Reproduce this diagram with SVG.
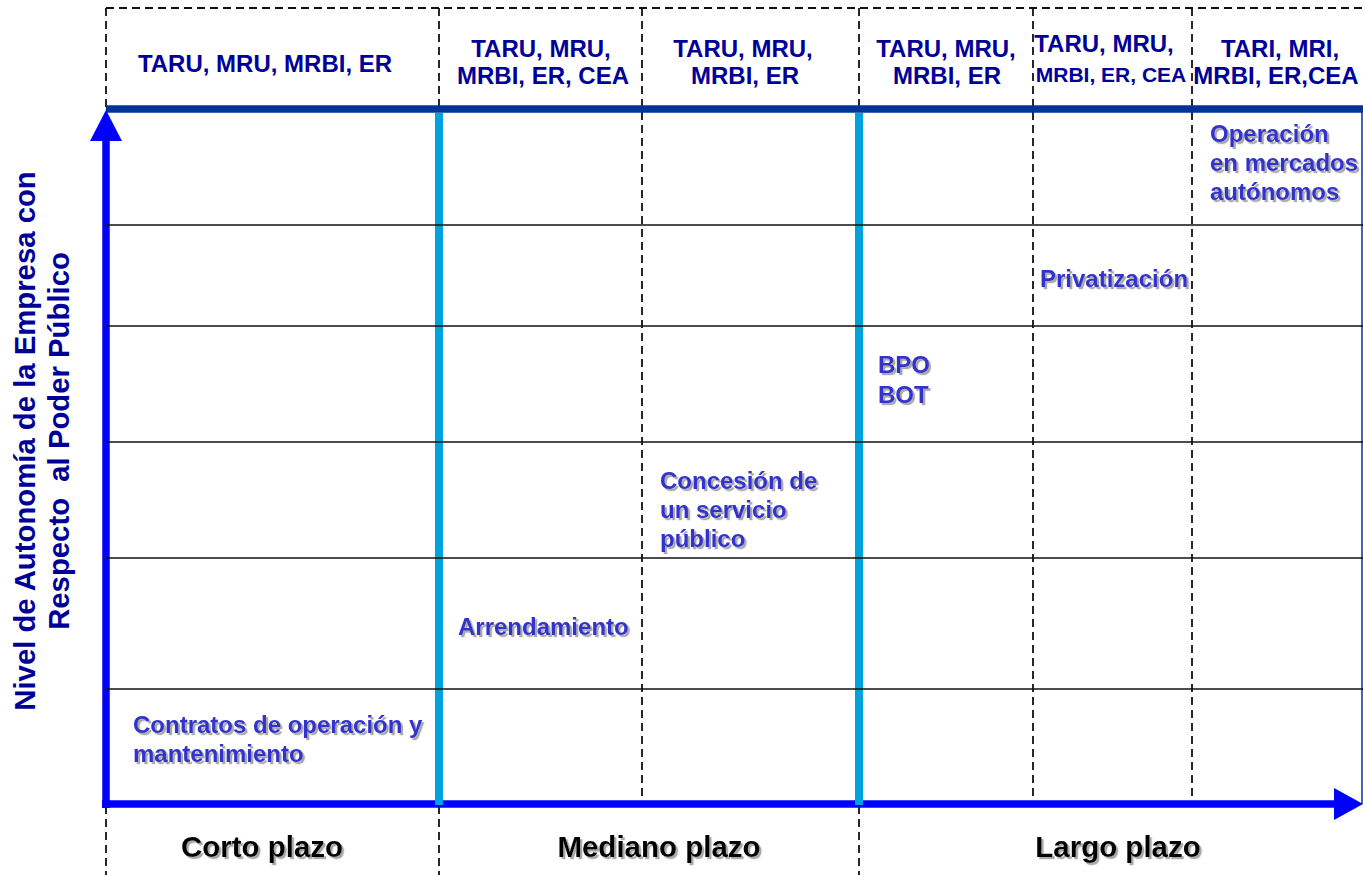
<svg xmlns="http://www.w3.org/2000/svg" width="1363" height="875" viewBox="0 0 1363 875">
<style>
.dash{stroke:#111;stroke-width:1.8;stroke-dasharray:8,5;fill:none}
.hl{stroke:#111;stroke-width:1.6;fill:none}
.cyan{stroke:#00A2DC;stroke-width:8;fill:none}
.hdr{font-family:"Liberation Sans",Arial,sans-serif;font-weight:bold;font-size:24px;fill:#000099;text-anchor:middle}
.lbl{font-family:"Liberation Sans",Arial,sans-serif;font-weight:bold;font-size:24px;fill:#3333CC;filter:url(#sh)}
.bot{font-family:"Liberation Sans",Arial,sans-serif;font-weight:bold;font-size:29.5px;fill:#000;text-anchor:middle;filter:url(#sh)}
.ax{font-family:"Liberation Sans",Arial,sans-serif;font-weight:bold;font-size:29.3px;fill:#000099;text-anchor:middle}
</style>
<defs>
<filter id="sh" x="-5%" y="-20%" width="115%" height="150%">
<feDropShadow dx="2.2" dy="2.2" stdDeviation="0.7" flood-color="#8c8c8c" flood-opacity="0.75"/>
</filter>
</defs>
<rect width="1363" height="875" fill="#fff"/>
<g id="grid">
<line class="dash" x1="106" y1="8" x2="1363" y2="8"/>
<line class="dash" x1="106" y1="8" x2="106" y2="108"/>
<line class="dash" x1="439" y1="8" x2="439" y2="108"/>
<line class="dash" x1="642" y1="8" x2="642" y2="804"/>
<line class="dash" x1="859" y1="8" x2="859" y2="108"/>
<line class="dash" x1="1033" y1="8" x2="1033" y2="804"/>
<line class="dash" x1="1192" y1="8" x2="1192" y2="804"/>
<line class="dash" x1="106" y1="806" x2="106" y2="875"/>
<line class="dash" x1="439" y1="806" x2="439" y2="875"/>
<line class="dash" x1="859" y1="806" x2="859" y2="875"/>
<line x1="1362" y1="108" x2="1362" y2="804" stroke="#003399" stroke-width="1.5"/>
</g>
<g id="connectors">
<line x1="106" y1="109" x2="1363" y2="109" stroke="#003399" stroke-width="7.5"/>
<line x1="106" y1="808" x2="106" y2="138" stroke="#0000FF" stroke-width="7.5"/>
<polygon points="106,110 122,141 90,141" fill="#0000FF"/>
<line x1="102" y1="804" x2="1338" y2="804" stroke="#0000FF" stroke-width="7.5"/>
<polygon points="1363,804 1334,788 1334,820" fill="#0000FF"/>
<line class="cyan" x1="439" y1="113" x2="439" y2="805"/>
<line class="cyan" x1="859" y1="113" x2="859" y2="805"/>
<line class="hl" x1="106" y1="225" x2="1363" y2="225"/>
<line class="hl" x1="106" y1="326" x2="1363" y2="326"/>
<line class="hl" x1="106" y1="442" x2="1363" y2="442"/>
<line class="hl" x1="106" y1="558" x2="1363" y2="558"/>
<line class="hl" x1="106" y1="689" x2="1363" y2="689"/>
</g>
<g id="headers">
<g id="h1"><text class="hdr" x="265" y="72">TARU, MRU, MRBI, ER</text></g>
<g id="h2"><text class="hdr" x="541" y="57">TARU, MRU,</text><text class="hdr" x="543" y="84">MRBI, ER, CEA</text></g>
<g id="h3"><text class="hdr" x="743" y="57">TARU, MRU,</text><text class="hdr" x="745" y="84">MRBI, ER</text></g>
<g id="h4"><text class="hdr" x="946" y="57">TARU, MRU,</text><text class="hdr" x="947" y="84">MRBI, ER</text></g>
<g id="h5"><text class="hdr" x="1104" y="52">TARU, MRU,</text><text class="hdr" x="1111" y="82" style="font-size:21px">MRBI, ER, CEA</text></g>
<g id="h6"><text class="hdr" x="1280" y="57">TARI, MRI,</text><text class="hdr" x="1276" y="84">MRBI, ER,CEA</text></g>
</g>
<g id="labels">
<g id="n-operacion"><text class="lbl" x="1210" y="142">Operación</text><text class="lbl" x="1210" y="171">en mercados</text><text class="lbl" x="1210" y="200">autónomos</text></g>
<g id="n-privatizacion"><text class="lbl" x="1040" y="287">Privatización</text></g>
<g id="n-bpo"><text class="lbl" x="878" y="373">BPO</text><text class="lbl" x="878" y="403">BOT</text></g>
<g id="n-concesion"><text class="lbl" x="660" y="489">Concesión de</text><text class="lbl" x="660" y="518">un servicio</text><text class="lbl" x="660" y="547">público</text></g>
<g id="n-arrendamiento"><text class="lbl" x="458" y="635">Arrendamiento</text></g>
<g id="n-contratos"><text class="lbl" x="133" y="733">Contratos de operación y</text><text class="lbl" x="133" y="762">mantenimiento</text></g>
</g>
<g id="bottom">
<g id="b1"><text class="bot" x="262" y="857">Corto plazo</text></g>
<g id="b2"><text class="bot" x="659" y="857">Mediano plazo</text></g>
<g id="b3"><text class="bot" x="1118" y="857">Largo plazo</text></g>
</g>
<g id="axis-label">
<text class="ax" transform="translate(35,441) rotate(-90)">Nivel de Autonomía de la Empresa con</text>
<text class="ax" transform="translate(69,441) rotate(-90)" xml:space="preserve">Respecto  al Poder Público</text>
</g>
</svg>
